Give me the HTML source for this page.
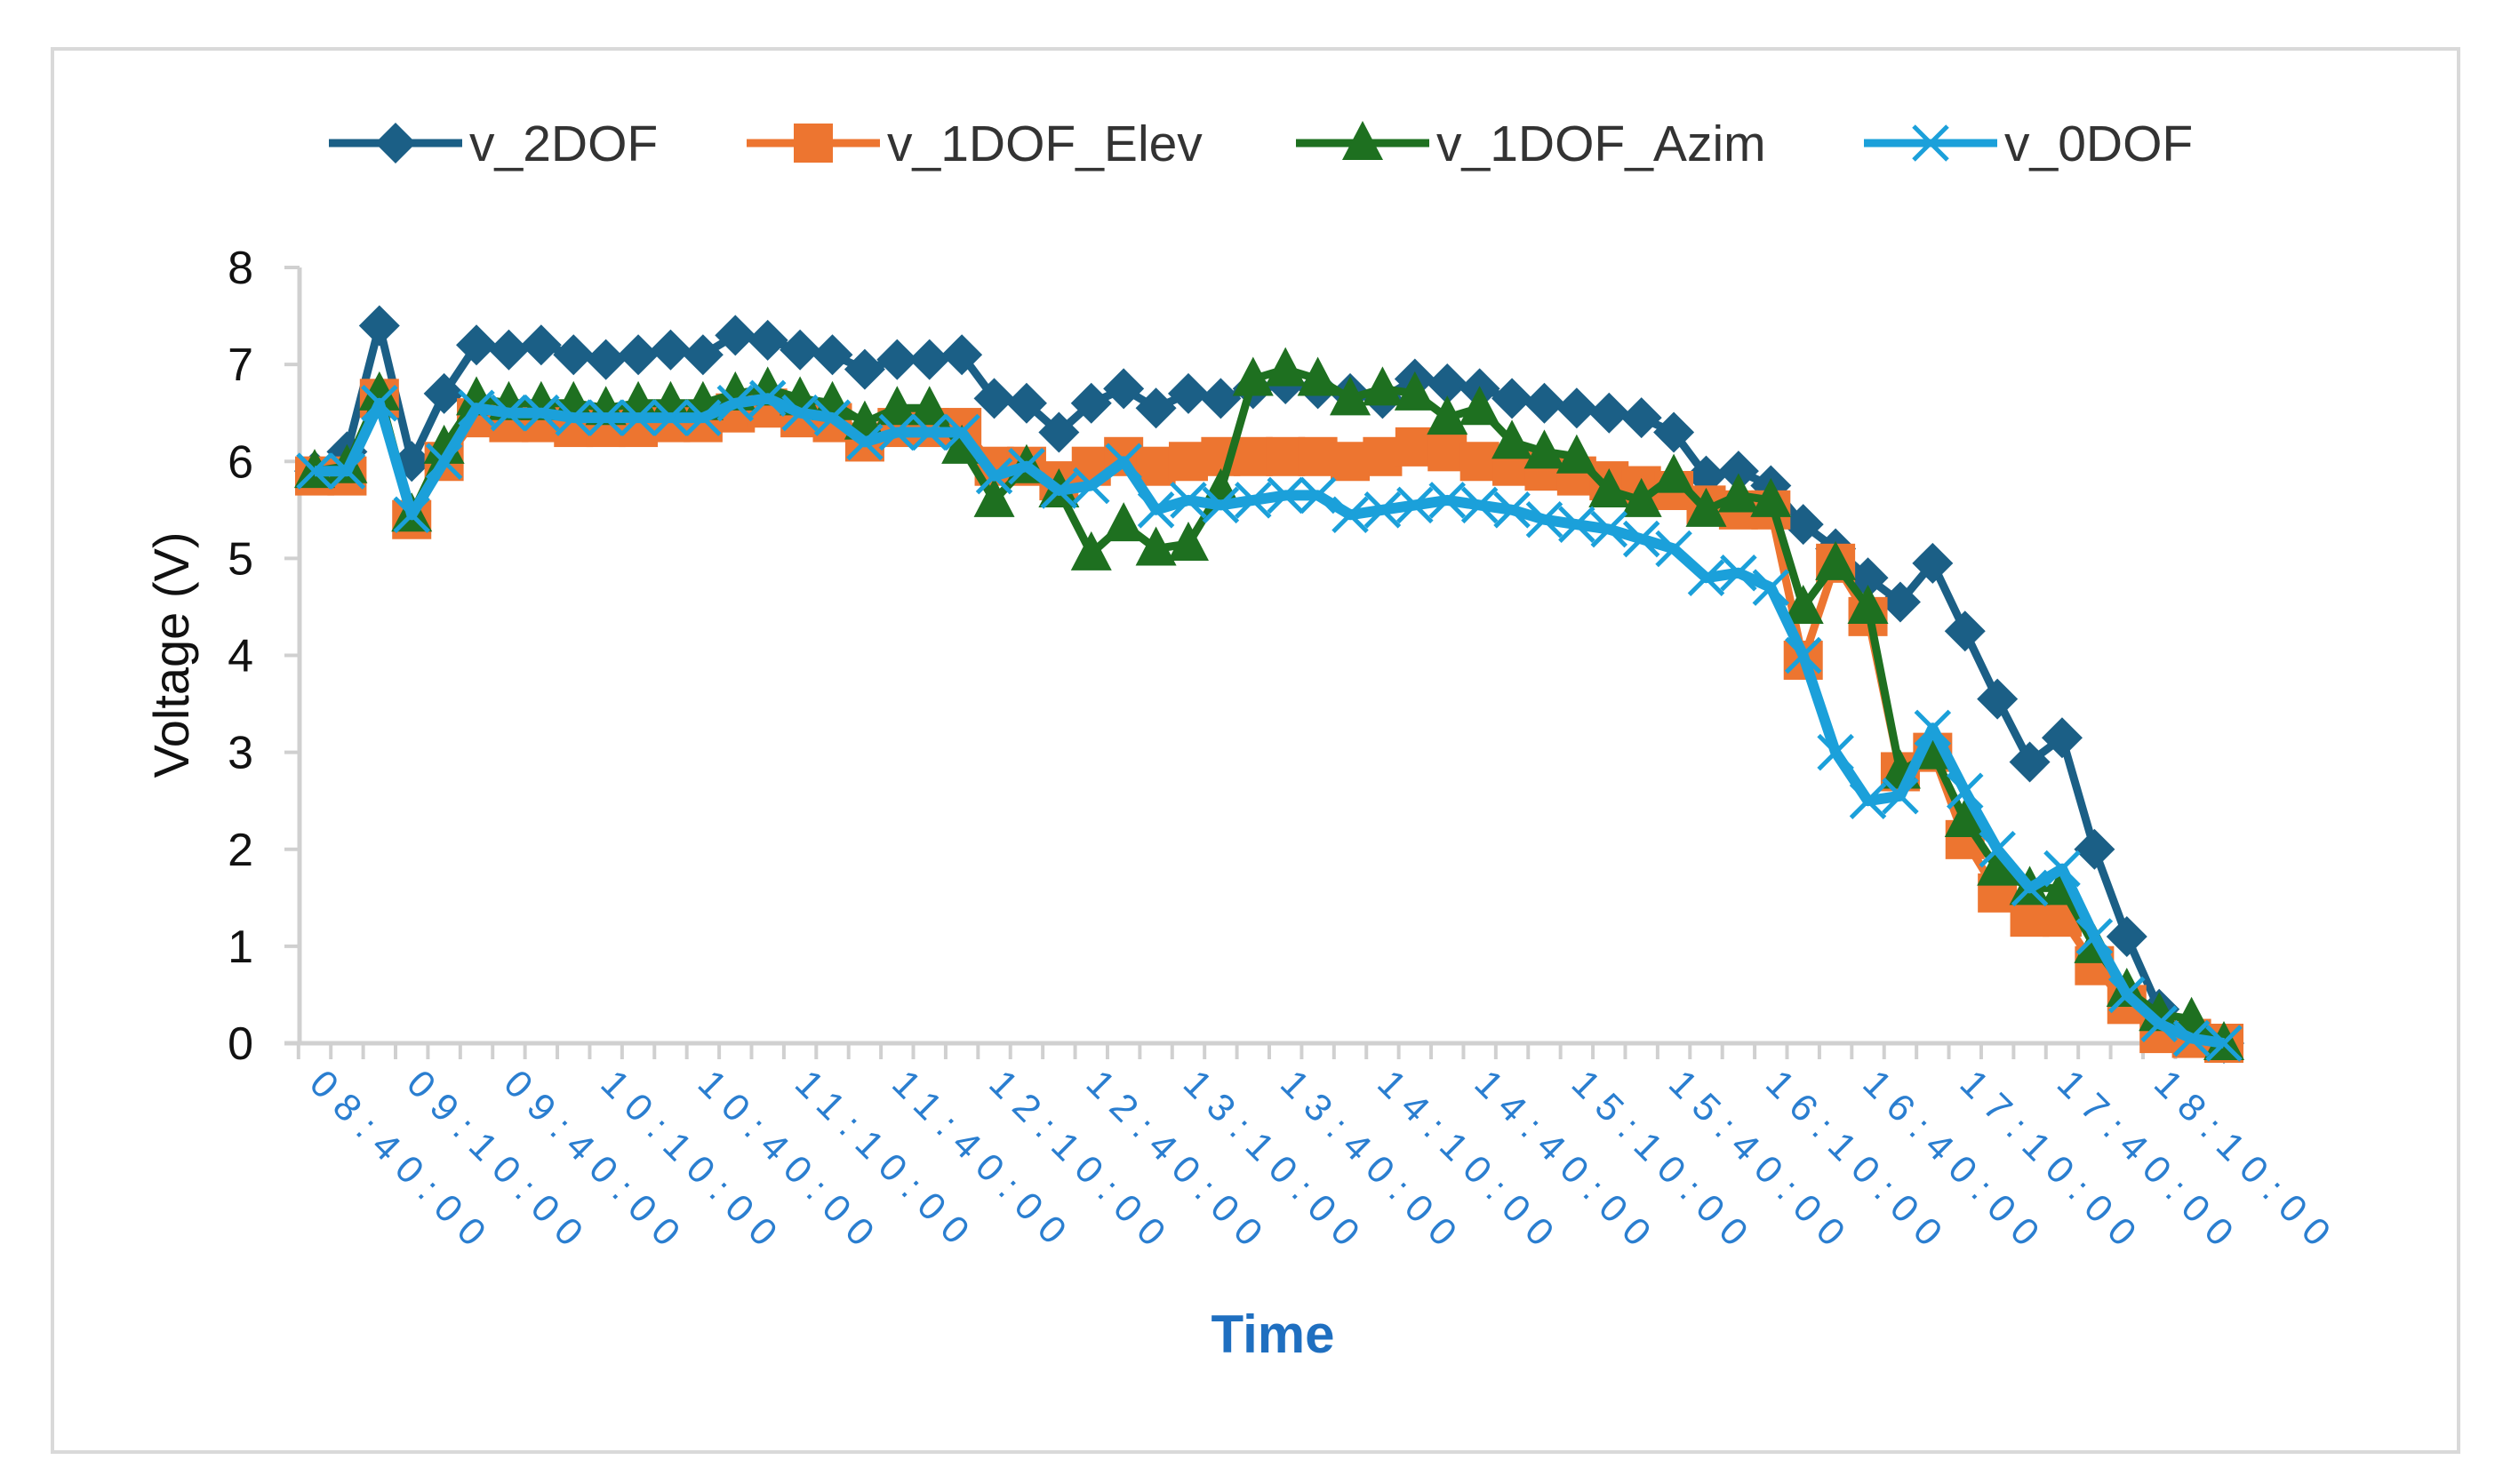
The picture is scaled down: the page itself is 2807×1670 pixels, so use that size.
<!DOCTYPE html>
<html><head><meta charset="utf-8"><style>
html,body{margin:0;padding:0;background:#fff;}
svg{display:block;font-family:"Liberation Sans",Arial,sans-serif;}
</style></head><body>
<svg id="chart" width="2807" height="1670" viewBox="0 0 2807 1670" xmlns="http://www.w3.org/2000/svg">
<rect x="59" y="55" width="2707" height="1579" fill="#fff" stroke="#d9d9d9" stroke-width="4"/>
<g id="legend"></g>
<g id="axes"></g>
<g id="series"></g>
<text x="0" y="0" transform="translate(212,737) rotate(-90)" text-anchor="middle" font-size="56" fill="#111">Voltage (V)</text>
<text x="1432" y="1522" text-anchor="middle" font-size="60" font-weight="bold" fill="#1f6fc0">Time</text>
</svg>
<script>
const times = ["08:40:00","08:50:00","09:00:00","09:10:00","09:20:00","09:30:00","09:40:00","09:50:00","10:00:00","10:10:00","10:20:00","10:30:00","10:40:00","10:50:00","11:00:00","11:10:00","11:20:00","11:30:00","11:40:00","11:50:00","12:00:00","12:10:00","12:20:00","12:30:00","12:40:00","12:50:00","13:00:00","13:10:00","13:20:00","13:30:00","13:40:00","13:50:00","14:00:00","14:10:00","14:20:00","14:30:00","14:40:00","14:50:00","15:00:00","15:10:00","15:20:00","15:30:00","15:40:00","15:50:00","16:00:00","16:10:00","16:20:00","16:30:00","16:40:00","16:50:00","17:00:00","17:10:00","17:20:00","17:30:00","17:40:00","17:50:00","18:00:00","18:10:00","18:20:00","18:30:00"];
const v2DOF = [5.9,6.1,7.4,6.0,6.7,7.2,7.15,7.2,7.1,7.05,7.1,7.15,7.1,7.3,7.25,7.15,7.1,6.95,7.05,7.05,7.1,6.65,6.6,6.3,6.6,6.75,6.55,6.7,6.65,6.75,6.8,6.75,6.7,6.65,6.85,6.8,6.75,6.65,6.6,6.55,6.5,6.45,6.3,5.85,5.9,5.75,5.35,5.1,4.8,4.55,4.95,4.25,3.55,2.9,3.15,2.0,1.1,0.35,0.1,0.0];
const v1DOFElev = [5.85,5.85,6.65,5.4,6.0,6.45,6.4,6.4,6.35,6.35,6.35,6.4,6.4,6.5,6.55,6.45,6.4,6.2,6.35,6.35,6.35,5.95,5.95,5.8,5.95,6.05,5.95,6.0,6.05,6.05,6.05,6.05,6.0,6.05,6.15,6.1,6.0,5.95,5.9,5.85,5.8,5.75,5.7,5.55,5.5,5.5,3.95,4.95,4.4,2.8,3.0,2.1,1.55,1.3,1.3,0.8,0.4,0.1,0.05,0.0];
const v1DOFAzim = [5.9,5.95,6.7,5.45,6.15,6.65,6.6,6.6,6.6,6.55,6.6,6.6,6.6,6.7,6.75,6.65,6.6,6.4,6.55,6.55,6.15,5.6,5.95,5.7,5.05,5.35,5.1,5.15,5.7,6.85,6.95,6.85,6.65,6.75,6.7,6.45,6.55,6.2,6.1,6.05,5.7,5.6,5.85,5.5,5.65,5.6,4.5,4.95,4.5,2.8,3.0,2.3,1.8,1.6,1.6,1.0,0.55,0.3,0.25,0.0];
const v0DOF = [5.9,5.9,6.6,5.45,6.0,6.55,6.5,6.5,6.45,6.45,6.45,6.45,6.45,6.6,6.65,6.5,6.45,6.2,6.3,6.3,6.3,5.85,5.95,5.7,5.75,6.0,5.5,5.6,5.55,5.6,5.65,5.65,5.45,5.5,5.55,5.6,5.55,5.5,5.4,5.35,5.3,5.2,5.1,4.8,4.85,4.7,4.0,3.0,2.5,2.55,3.25,2.6,2.0,1.6,1.8,1.1,0.5,0.2,0.05,0.0];
const yTicks = [0,1,2,3,4,5,6,7,8];

const NS="http://www.w3.org/2000/svg";
const X0=354, X1=2502, Y0=1174, Y8=301;
function xs(i){return X0+i*(X1-X0)/(times.length-1);}
function ys(v){return Y0-v*(Y0-Y8)/8;}
function mk(tag,attrs,parent){const e=document.createElementNS(NS,tag);for(const k in attrs)e.setAttribute(k,attrs[k]);parent.appendChild(e);return e;}
const axes=document.getElementById('axes');
let yl=mk('line',{x1:337,y1:Y8,x2:337,y2:Y0,stroke:'#d0d0d0','stroke-width':5},axes);


let xl=mk('line',{x1:320,y1:Y0,x2:xs(59.5),y2:Y0,stroke:'#d0d0d0','stroke-width':5},axes);


yTicks.forEach(t=>{
  const tk=mk('line',{x1:320,y1:ys(t),x2:337,y2:ys(t),stroke:'#d0d0d0','stroke-width':4},axes);
  
  
  const lb=mk('text',{x:285,y:ys(t)+18,'text-anchor':'end','font-size':52,fill:'#111'},axes);
  lb.textContent=t;
  
  
});
for(let i=0;i<=times.length;i++){
  const x=xs(i-0.5);
  const tk=mk('line',{x1:x,y1:Y0,x2:x,y2:Y0+18,stroke:'#d0d0d0','stroke-width':4},axes);
  
  
}
times.forEach((t,i)=>{
  if(i%3!==0)return;
  const x=xs(i)-8;
  const lb=mk('text',{x:0,y:0,transform:`translate(${x},1222) rotate(45)`,'font-size':43,'letter-spacing':13,fill:'#2a7ed0'},axes);
  lb.textContent=t;
  
  
});
const seriesG=document.getElementById('series');
function marker(type,x,y,color,g){
  let e;
  if(type==='diamond'){e=mk('polygon',{points:`${x},${y-23} ${x+23},${y} ${x},${y+23} ${x-23},${y}`,fill:color},g);}
  else if(type==='square'){e=mk('rect',{x:x-22,y:y-22,width:44,height:44,fill:color},g);}
  else if(type==='triangle'){e=mk('polygon',{points:`${x},${y-25} ${x+23},${y+19} ${x-23},${y+19}`,fill:color},g);}
  else {e=mk('path',{d:`M${x-19},${y-19}L${x+19},${y+19}M${x+19},${y-19}L${x-19},${y+19}`,stroke:color,'stroke-width':5,fill:'none'},g);}
  return e;
}
function drawSeries(vals,color,type,name){
  const g=mk('g',{},seriesG);
  
  
  const d=vals.map((v,i)=>(i?'L':'M')+xs(i).toFixed(1)+','+ys(v).toFixed(1)).join('');
  const p=mk('path',{d:d,stroke:color,'stroke-width':type==='x'?12:9,fill:'none','stroke-linejoin':'round'},g);
  
  
  vals.forEach((v,i)=>{
    const m=marker(type,xs(i),ys(v),color,g);
    
    
  });
}
drawSeries(v2DOF,'#1b5f86','diamond','series-v-2dof');
drawSeries(v1DOFElev,'#ed7530','square','series-v-1dof-elev');
drawSeries(v1DOFAzim,'#1e7020','triangle','series-v-1dof-azim');
drawSeries(v0DOF,'#1ba0da','x','series-v-0dof');
const legend=document.getElementById('legend');
const legItems=[["v_2DOF",'#1b5f86','diamond',370],["v_1DOF_Elev",'#ed7530','square',840],["v_1DOF_Azim",'#1e7020','triangle',1458],["v_0DOF",'#1ba0da','x',2097]];
legItems.forEach(([label,color,type,x])=>{
  const g=mk('g',{},legend);
  
  
  mk('line',{x1:x,y1:161,x2:x+150,y2:161,stroke:color,'stroke-width':9},g);
  marker(type,x+75,161,color,g);
  const t=mk('text',{x:x+158,y:181,'font-size':57,fill:'#333'},g);
  t.textContent=label;
});
</script>
</body></html>
